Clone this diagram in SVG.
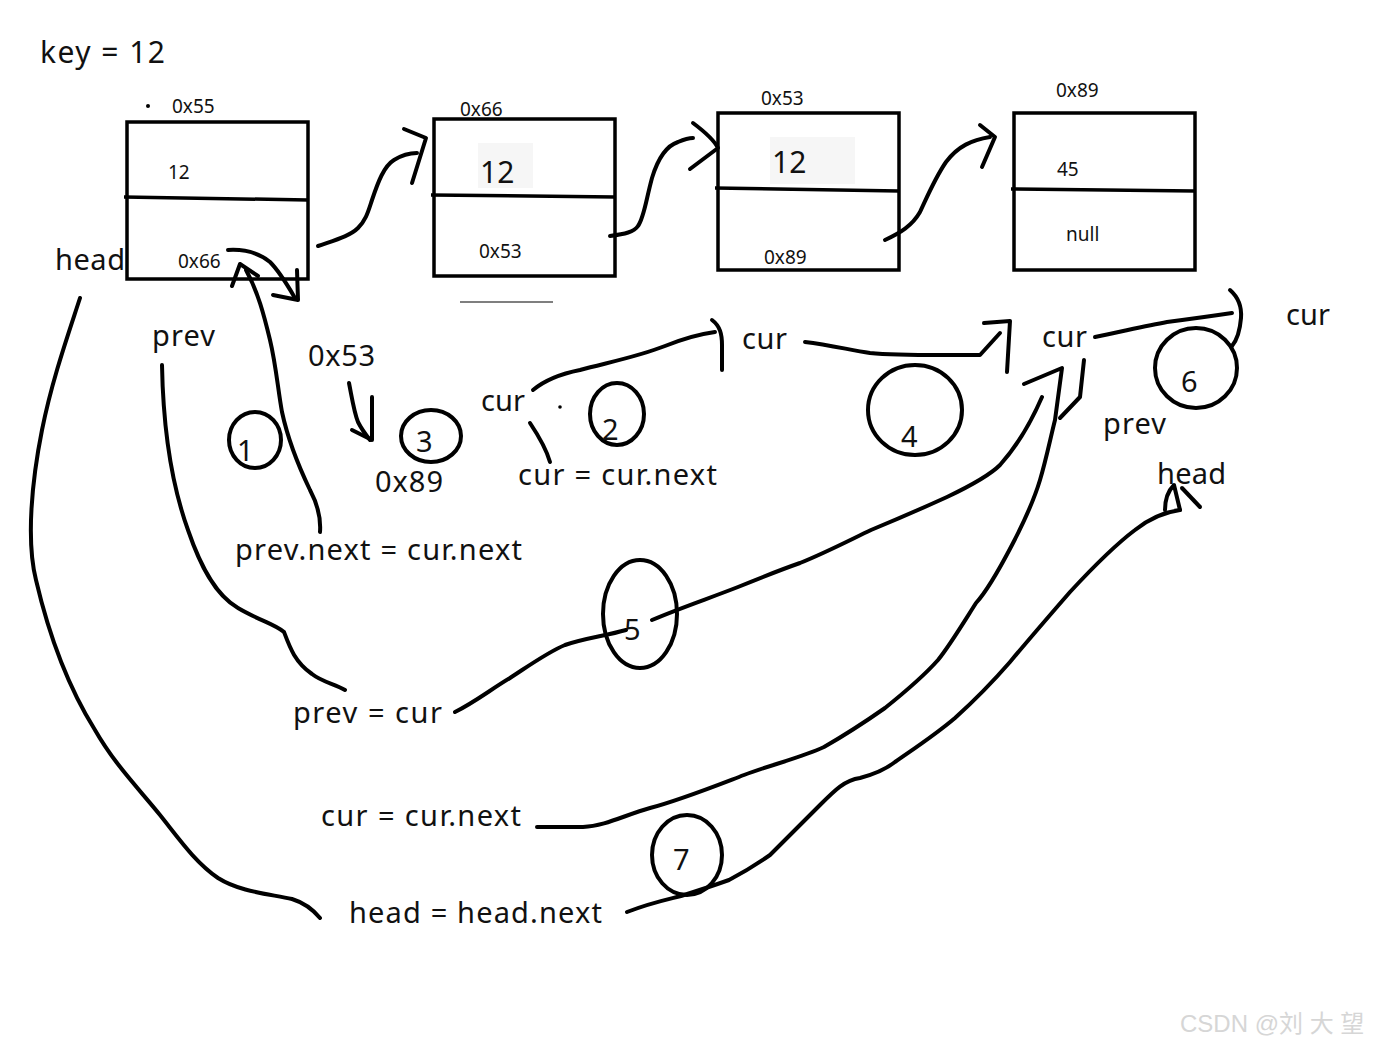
<svg xmlns="http://www.w3.org/2000/svg" width="1380" height="1046" viewBox="0 0 1380 1046">
<style>
text{font-family:"Noto Sans","Open Sans","Liberation Sans",sans-serif;fill:#111}
.t{font-size:29px}
.s{font-size:19px}
.m{font-size:30px}
.box{fill:none;stroke:#000;stroke-width:3.5}
.ink{fill:none;stroke:#000;stroke-width:4;stroke-linecap:round;stroke-linejoin:round}
.c{fill:none;stroke:#000;stroke-width:4}
</style>
<rect width="1380" height="1046" fill="#fff"/>
<text class="m" x="40" y="63" textLength="125" lengthAdjust="spacing">key = 12</text>

<g id="node1">
<rect class="box" x="127" y="122" width="181" height="157"/>
<path class="box" d="M124,197 L308,200"/>
<circle cx="148" cy="106" r="2" fill="#000"/>
<text class="s" x="172" y="113">0x55</text>
<text class="s" x="168" y="179">12</text>
<text class="s" x="178" y="268">0x66</text>
</g>
<text class="t" x="55" y="270" textLength="70" lengthAdjust="spacing">head</text>

<g id="node2">
<rect class="box" x="434" y="119" width="181" height="157"/>
<path class="box" d="M431,195 L615,197"/>
<rect x="478" y="143" width="55" height="45" fill="#f6f6f6"/>
<text class="s" x="460" y="116">0x66</text>
<text class="m" x="480" y="183">12</text>
<text class="s" x="479" y="258">0x53</text>
</g>
<path d="M460,302 L553,302" stroke="#555" stroke-width="1.5"/>

<g id="node3">
<rect class="box" x="718" y="113" width="181" height="157"/>
<path class="box" d="M715,188 L899,191"/>
<rect x="770" y="137" width="85" height="47" fill="#f6f6f6"/>
<text class="s" x="761" y="105">0x53</text>
<text class="m" x="772" y="173">12</text>
<text class="s" x="764" y="264">0x89</text>
</g>

<g id="node4">
<rect class="box" x="1014" y="113" width="181" height="157"/>
<path class="box" d="M1011,189 L1195,191"/>
<text class="s" x="1056" y="97">0x89</text>
<text class="s" x="1057" y="176">45</text>
<text class="s" x="1066" y="241">null</text>
</g>

<g id="labels">
<text class="t" x="152" y="346" textLength="63" lengthAdjust="spacing">prev</text>
<text class="t" x="308" y="366" textLength="67" lengthAdjust="spacing">0x53</text>
<text class="t" x="375" y="492" textLength="68" lengthAdjust="spacing">0x89</text>
<text class="t" x="481" y="411" textLength="44" lengthAdjust="spacing">cur</text>
<text class="t" x="518" y="485" textLength="199" lengthAdjust="spacing">cur = cur.next</text>
<text class="t" x="742" y="349" textLength="45" lengthAdjust="spacing">cur</text>
<text class="t" x="1042" y="347" textLength="45" lengthAdjust="spacing">cur</text>
<text class="t" x="1286" y="325" textLength="44" lengthAdjust="spacing">cur</text>
<text class="t" x="1103" y="434" textLength="63" lengthAdjust="spacing">prev</text>
<text class="t" x="1157" y="484" textLength="69" lengthAdjust="spacing">head</text>
<text class="t" x="235" y="560" textLength="287" lengthAdjust="spacing">prev.next = cur.next</text>
<text class="t" x="293" y="723" textLength="149" lengthAdjust="spacing">prev = cur</text>
<text class="t" x="321" y="826" textLength="200" lengthAdjust="spacing">cur = cur.next</text>
<text class="t" x="349" y="923" textLength="253" lengthAdjust="spacing">head = head.next</text>
<circle cx="560" cy="407" r="1.8" fill="#000"/>
</g>

<g id="steps">
<ellipse class="c" cx="255" cy="440" rx="26" ry="28"/><text class="t" x="237" y="461">1</text>
<ellipse class="c" cx="617" cy="414" rx="27" ry="31"/><text class="t" x="602" y="440">2</text>
<ellipse class="c" cx="431" cy="436" rx="30" ry="26"/><text class="t" x="416" y="452">3</text>
<ellipse class="c" cx="915" cy="410" rx="47" ry="45"/><text class="t" x="901" y="447">4</text>
<ellipse class="c" cx="640" cy="614" rx="37" ry="54"/><text class="t" x="624" y="640">5</text>
<ellipse class="c" cx="1196" cy="368" rx="41" ry="40"/><text class="t" x="1181" y="392">6</text>
<ellipse class="c" cx="687" cy="855" rx="35" ry="40"/><text class="t" x="673" y="870">7</text>
</g>

<g id="connectors">
<path class="ink" d="M318,246 C335,240 350,236 358,228 C366,220 368,212 372,200 C378,182 384,166 394,160 C402,155 410,153 417,153"/>
<path class="ink" d="M404,129 L426,138 L412,183"/>
<path class="ink" d="M610,236 C625,234 634,232 638,226 C644,218 646,200 652,178 C658,158 666,146 678,142 C685,139 690,138 693,138"/>
<path class="ink" d="M693,123 C705,132 714,140 718,148 L690,169"/>
<path class="ink" d="M885,240 C900,233 912,226 920,212 C928,195 935,178 946,162 C958,146 972,140 990,137"/>
<path class="ink" d="M980,125 L995,137 L982,167"/>
<path class="ink" d="M228,250 C245,249 258,252 270,262 C280,272 288,286 295,298"/>
<path class="ink" d="M297,270 L298,300 L273,295"/>
<path class="ink" d="M320,532 C321,518 318,505 310,490 C298,465 288,440 282,412 C278,390 276,365 270,340 C264,315 258,292 246,270"/>
<path class="ink" d="M232,286 L240,264 L258,276"/>
<path class="ink" d="M162,365 C163,420 170,480 188,530 C200,565 215,595 238,608 C258,620 275,624 284,632 C290,648 295,662 312,674 C322,682 335,684 345,690"/>
<path class="ink" d="M80,298 C68,335 52,380 42,430 C32,480 26,540 36,580 C50,640 70,690 95,730 C115,765 140,790 160,815 C180,840 195,862 218,878 C240,892 270,894 292,899 C305,903 315,912 320,918"/>
<path class="ink" d="M349,383 C352,398 354,412 358,422 C362,430 366,435 370,440"/>
<path class="ink" d="M372,397 L372,440 L352,430"/>
<path class="ink" d="M533,390 C545,380 560,374 580,370 C610,362 640,356 665,346 C685,338 700,334 715,332"/>
<path class="ink" d="M712,320 C720,326 722,334 722,345 L722,370"/>
<path class="ink" d="M530,423 C538,435 546,448 550,462"/>
<path class="ink" d="M805,342 C830,345 850,350 870,353 C900,356 940,355 980,355 L1000,333"/>
<path class="ink" d="M984,323 L1010,321 L1007,372"/>
<path class="ink" d="M1095,337 C1120,332 1145,326 1167,322 C1190,319 1212,316 1232,313"/>
<path class="ink" d="M1230,290 C1238,297 1242,305 1241,318 C1240,330 1237,340 1232,346"/>
<path class="ink" d="M455,712 C475,702 490,690 510,678 C530,665 548,652 565,645 C585,638 605,636 626,630"/>
<path class="ink" d="M652,620 C680,608 710,598 738,587 C760,578 780,570 800,563 C825,553 850,540 871,530 C900,518 925,507 947,497 C968,487 990,475 1000,465 C1018,445 1032,420 1042,397"/>
<path class="ink" d="M1024,384 L1062,368 L1055,420 C1050,440 1046,460 1040,480 C1034,500 1025,520 1012,545 C1000,568 988,590 976,603 C962,625 950,645 938,660 C922,678 905,692 885,708 C865,722 845,735 824,747 C800,758 770,765 744,775 C710,788 680,800 650,808 C625,815 605,826 583,827 L537,827"/>
<path class="ink" d="M1084,360 L1080,397 L1060,418"/>
<path class="ink" d="M627,912 C650,903 665,900 681,896 C700,890 715,885 729,880 C748,870 760,862 770,855 C790,835 805,820 820,805 C835,790 845,780 860,778 C875,774 885,770 895,762 C915,748 935,735 955,718 C975,700 990,685 1010,662 C1030,638 1050,615 1070,592 C1095,565 1115,545 1135,530 C1150,518 1165,512 1180,510"/>
<path class="ink" d="M1165,510 C1165,500 1167,492 1174,485 L1180,510"/>
<path class="ink" d="M1182,488 L1200,507"/>
</g>

<text x="1180" y="1032" style="font-family:'Liberation Sans','Noto Sans CJK SC',sans-serif;font-size:24px;fill:#d6d6d6">CSDN @刘 大 望</text>
</svg>
